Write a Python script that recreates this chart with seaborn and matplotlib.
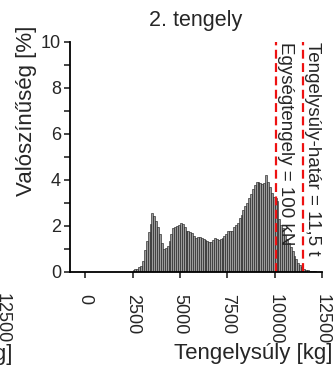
import numpy as np
import pandas as pd
import seaborn as sns
import matplotlib
matplotlib.use("Agg")
import matplotlib.pyplot as plt

sns.set_theme(style="ticks")
plt.rcParams['font.family'] = ['Liberation Sans', 'DejaVu Sans']

# axle load histogram, 100 kg bins starting at 2500 kg, values in percent
bin_start = 2500
bin_width = 100
pct = [
    0.10, 0.12, 0.15, 0.20, 0.25, 0.50, 0.95, 1.35, 1.75, 2.10,
    2.58, 2.45, 2.20, 1.95, 1.65, 1.25, 1.00, 1.05, 1.15, 1.35,
    1.65, 1.90, 1.95, 2.00, 2.05, 2.12, 2.10, 1.95, 1.80, 1.78,
    1.75, 1.70, 1.55, 1.50, 1.52, 1.52, 1.48, 1.45, 1.40, 1.35,
    1.32, 1.30, 1.40, 1.50, 1.42, 1.40, 1.42, 1.48, 1.55, 1.65,
    1.80, 1.80, 1.80, 1.95, 2.05, 2.15, 2.35, 2.50, 2.70, 2.85,
    3.00, 3.20, 3.40, 3.60, 3.80, 3.90, 3.93, 3.85, 3.83, 3.85,
    4.20, 3.90, 3.70, 3.45, 3.25, 3.20, 3.10, 2.30, 2.05, 1.90,
    1.60, 1.45, 1.25, 1.10, 0.90, 0.70, 0.55, 0.40, 0.30, 0.20,
    0.15, 0.10, 0.08, 0.06, 0.05, 0.04, 0.03, 0.02, 0.02, 0.01,
]
x_ticks = [0, 2500, 5000, 7500, 10000, 12500]
y_ticks = [0, 2, 4, 6, 8, 10]
limits = [10080, 11500]
limit_labels = ["Egységtengely = 100 kN", "Tengelysúly-határ = 11,5 t"]

centers = bin_start + bin_width * (np.arange(len(pct)) + 0.5)
df = pd.DataFrame({"kg": centers, "pct": pct})

fig = plt.figure(figsize=(3.35, 3.71), dpi=100)
ax = fig.add_axes([70 / 335, 1 - 272 / 371, 252 / 335, 230 / 371])

sns.histplot(data=df, x="kg", weights="pct", binwidth=bin_width,
             binrange=(bin_start, bin_start + bin_width * len(pct)), stat="count",
             color="#9c9c9c", edgecolor="#111111", linewidth=0.4, alpha=1, ax=ax)

for xv, lab in zip(limits, limit_labels):
    ax.axvline(xv, color="#ee1111", lw=1.6, dashes=(4, 2))
    ax.text(xv + 60, 10, lab, rotation=-90, ha="left", va="top", fontsize=13.5)

ax.set_xlim(-800, 12500)
ax.set_ylim(0, 10)
ax.set_xticks(x_ticks)
ax.set_xticklabels([str(t) for t in x_ticks], rotation=-90, fontsize=13)
ax.set_yticks(y_ticks)
ax.set_yticks(np.arange(1, 10, 2), minor=True)
ax.tick_params(axis="y", labelsize=13, length=4.5, width=1.2, pad=2)
ax.tick_params(axis="y", which="minor", length=4, width=1.2)
ax.tick_params(axis="x", length=4.5, width=1.2, pad=11)
for s in ["top", "right"]:
    ax.spines[s].set_visible(False)
for s in ["left", "bottom"]:
    ax.spines[s].set_linewidth(1.3)
    ax.spines[s].set_color("black")

ax.set_title("2. tengely", fontsize=15.5, pad=11.5)
ax.set_ylabel("Valószínűség [%]", fontsize=16)
ax.yaxis.set_label_coords(-0.13, 0.70)
ax.set_xlabel("Tengelysúly [kg]", fontsize=16, va="top")
ax.xaxis.set_label_coords(0.726, -0.31)

# cut-off fragments of the neighbouring panel
fig.text(2 / 335, 1 - 293 / 371, "12500", rotation=-90, ha="center", va="top", fontsize=13)
fig.text(12 / 335, 1 - 344 / 371, "Tengelysúly [kg]", ha="right", va="top", fontsize=16)

fig.savefig("out.png", dpi=100)
